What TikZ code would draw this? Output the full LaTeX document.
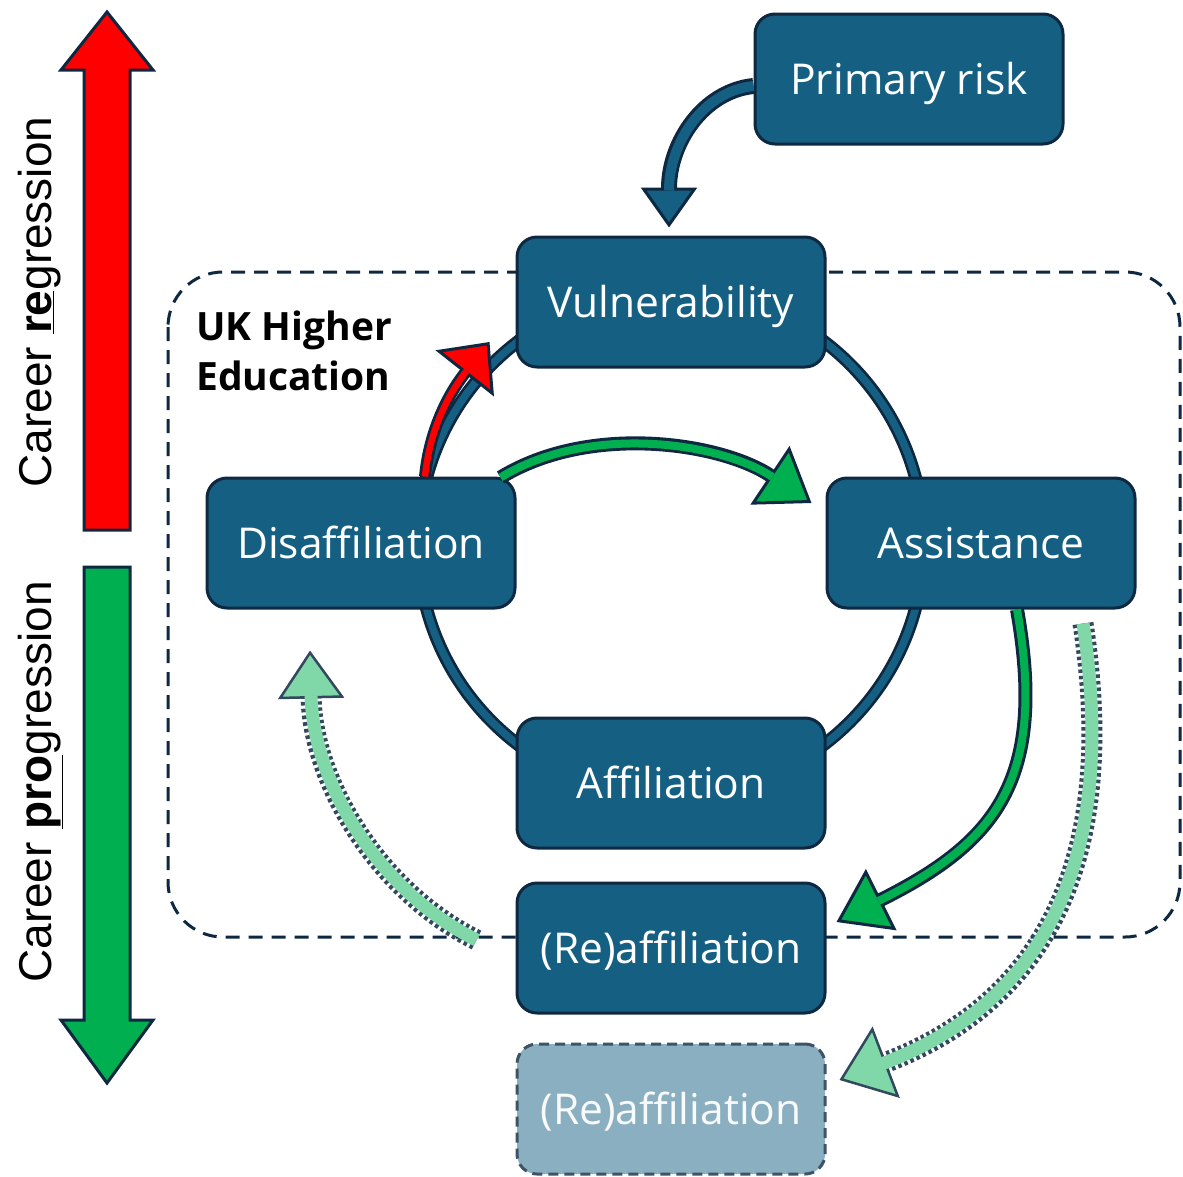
\documentclass[tikz,border=0pt]{standalone}
\usepackage{fontspec}
\setmainfont{Open Sans}
\newfontfamily\arialfont{Liberation Sans}
\usetikzlibrary{arrows.meta}
\usetikzlibrary{calc}

\definecolor{stageblue}{HTML}{156082}
\definecolor{navy}{HTML}{0E2841}
\definecolor{okgreen}{HTML}{00B050}
\definecolor{paleblue}{HTML}{8AAFC0}
\definecolor{palegreen}{HTML}{80D8A8}

\tikzstyle{stage} = [rectangle, rounded corners=20pt, line width=3pt, draw=navy, fill=stageblue,
                     text=white, font=\fontsize{42.5}{46}\selectfont,
                     minimum width=308pt, minimum height=130pt, text height=31pt, text depth=0pt]
\tikzstyle{ghost} = [stage, fill=paleblue, draw=navy!80, dash pattern=on 10pt off 6pt,
                     text=white!94!paleblue]
\tikzstyle{career} = [rotate=90, anchor=base, inner sep=0pt, font=\arialfont\fontsize{46}{50}\selectfont]
\tikzstyle{sector} = [anchor=north west, inner sep=0pt, align=left, font=\bfseries\fontsize{39}{50}\selectfont]
\tikzstyle{heframe} = [navy, line width=3pt, dash pattern=on 14pt off 9pt, rounded corners=55pt]
\tikzstyle{gauge} = [draw=navy, line width=3pt]

% outlined block arrow: dark pass with the head, then the colour pass on top
% #1 colour, #2 inner width, #3 outer width, #4 head length, #5 head width, #6 path
\newcommand{\bigarrow}[6]{%
  \draw[navy, line width=#3, -{Triangle[length=#4, width=#5, line width=3pt, fill=#1]}] #6;
  \draw[#1, line width=#2, shorten >=#4-3pt] #6;
}
% same, with a dotted rim
\newcommand{\dotarrow}[4]{%
  \draw[navy!85, line width=21pt, dash pattern=on 3.5pt off 3pt,
        -{Triangle[length=#1, width=#2, line width=2.5pt, fill=palegreen]}] #4;
  \draw[palegreen, line width=#3, shorten >=#1-3pt] #4;
}

\begin{document}
\begin{tikzpicture}[x=1pt, y=-1pt]
    \useasboundingbox (0,0) rectangle (1183,1176);

    % direction of travel
    \draw[gauge, fill=red] (84,530) -- (84,70) -- (61,70) -- (107,12) -- (153,70) -- (130,70) -- (130,530) -- cycle;
    \draw[gauge, fill=okgreen] (84,567) -- (84,1020) -- (61,1020) -- (107,1083) -- (153,1020) -- (130,1020) -- (130,567) -- cycle;
    \node[career] (regr) at (51,302) {Career \underline{\textbf{re}}gression};
    \node[career] (progr) at (51,782) {Career \underline{\textbf{pro}}gression};

    % sector boundary and the cycle
    \draw[heframe] (168,272) rectangle (1180,937);
    \node[sector] (uk) at (196,311) {UK Higher\\Education};
    \coordinate (hub) at (671,543);
    \draw[navy, line width=13pt] (hub) circle (253);
    \draw[stageblue, line width=7.5pt] (hub) circle (253);

    \node[stage] (prim) at (909,79) {Primary risk};
    \node[stage] (vuln) [above of=hub, node distance=241pt] {Vulnerability};
    \node[stage] (disaff) [left of=hub, node distance=310pt] {Disaffiliation};
    \node[stage] (assist) [right of=hub, node distance=310pt] {Assistance};
    \node[stage] (affil) [below of=hub, node distance=240pt] {Affiliation};
    \node[stage] (reaff) [below of=affil, node distance=165pt] {(Re)affiliation};
    \node[ghost] (reaff2) [below of=reaff, node distance=161pt] {(Re)affiliation};

    \bigarrow{stageblue}{10pt}{16pt}{40pt}{56pt}{($(prim.west)+(0,7)$) .. controls +(-50,5) and +(0,-85) .. ($(vuln.north)+(-2,-8)$)}
    \bigarrow{red}{6.5pt}{12pt}{40pt}{74pt}{($(disaff.north)+(64,0)$) .. controls +(6,-60) and +(-30,38) .. ($(vuln.west)+(-26,40)$)}
    \bigarrow{okgreen}{8pt}{14pt}{50pt}{70pt}{($(disaff.north east)+(-16,1)$) .. controls +(90,-55) and +(-90,-60) .. ($(assist.west)+(-14,-40)$)}
    \bigarrow{okgreen}{8pt}{14pt}{50pt}{68pt}{($(assist.south)+(36,0)$) .. controls +(30,170) and +(160,-80) .. ($(reaff.east)+(10,-26)$)}

    \dotarrow{50pt}{76pt}{13pt}{($(assist.south)+(102,14)$) .. controls +(35,230) and +(210,-80) .. ($(reaff2.east)+(13,-29)$)}
    \dotarrow{48pt}{66pt}{13pt}{($(reaff.west)+(-39,-8)$) .. controls +(-100,-50) and +(3,130) .. ($(disaff.south)+(-51,41)$)}
\end{tikzpicture}
\end{document}
